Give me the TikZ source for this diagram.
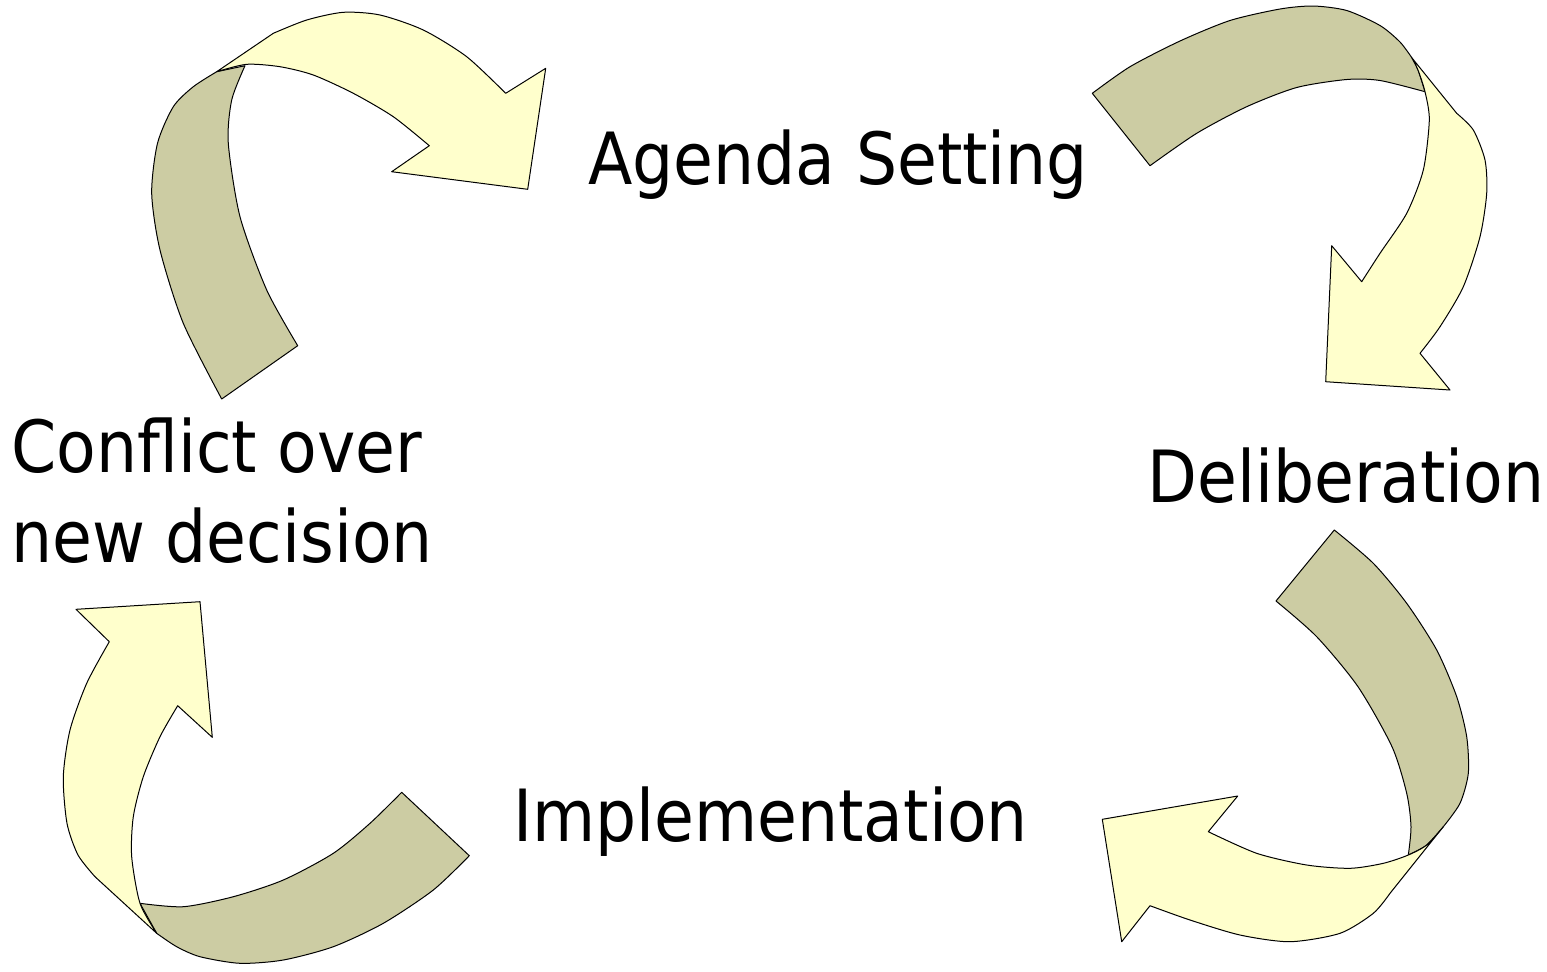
\documentclass[tikz,border=0pt]{standalone}
\usepackage{fontspec}
\setmainfont{DejaVu Sans Condensed}
\definecolor{foldgreen}{RGB}{204,204,163}
\definecolor{faceyellow}{RGB}{255,255,204}
\tikzset{
  fold/.style={draw=black,fill=foldgreen,line width=0.5pt,line join=round},
  face/.style={draw=black,fill=faceyellow,line width=0.5pt,line join=round},
  stage/.style={font=\fontsize{36}{45}\selectfont,inner sep=0pt,anchor=base west},
  smooth/.append style={tension=0.45}
}
\begin{document}
\begin{tikzpicture}[x=0.5pt,y=-0.5pt]
\useasboundingbox (0,0) rectangle (1547,971);
% upper left arrow, conflict -> agenda
\path[fold] (221.7,399) -- (297.7,345.7) -- plot[smooth] coordinates {(297.7,345.7) (266.7,290) (240,216.7) (228.3,143.3) (231.7,100) (245,65.7)} -- (216.7,71.7) -- plot[smooth] coordinates {(216.7,71.7) (193.3,86.7) (173.3,106.7) (157.5,143.3) (151.7,193.3) (160,250) (183.3,323.3) (221.7,399)} -- cycle;
\path[face] (216.7,71.7) -- (273.3,33.3) -- plot[smooth] coordinates {(273.3,33.3) (306.7,20) (343.3,12.3) (380,15) (423.3,30) (466.7,56.7) (505.7,93.3)} -- (545.7,68.3) -- (527.7,189.3) -- (391.7,171.7) -- (429.3,145.7) -- plot[smooth] coordinates {(429.3,145.7) (393.3,116.7) (353.3,93.3) (313.3,75) (280,66.7) (246.7,64.3) (216.7,71.7)} -- cycle;
% upper right arrow, agenda -> deliberation
\path[fold] (1092.3,93.3) -- plot[smooth] coordinates {(1092.3,93.3) (1130,66.7) (1180,41) (1230,20.5) (1280,9) (1313.3,6) (1346.7,10.5) (1380,25.5) (1400,42) (1412,58)} -- plot[smooth] coordinates {(1412,58) (1418,70) (1425,91.7)} -- plot[smooth] coordinates {(1425,91.7) (1380,80.5) (1346.7,79.5) (1296.7,87.5) (1246.7,106.7) (1196.7,133.3) (1150,165.7)} -- cycle;
\path[face] (1412,58) -- (1456.7,113.3) -- plot[smooth] coordinates {(1456.7,113.3) (1473.3,130) (1485,160) (1486.7,193.3) (1480,236.7) (1463.3,286.7) (1440,326.7) (1420,353.3)} -- (1450,390) -- (1325.7,381.7) -- (1331.7,245.7) -- (1361.7,281.7) -- plot[smooth] coordinates {(1361.7,281.7) (1380,253.3) (1406.7,213.3) (1423.3,170) (1429.3,120) (1425,91.7) (1418,70) (1412,58)} -- cycle;
% lower right arrow, deliberation -> implementation
\path[fold] (1334.3,530) -- plot[smooth] coordinates {(1334.3,530) (1373.3,563.3) (1406.7,603.3) (1436.7,650) (1456.7,696.7) (1466.7,736.7) (1468.3,773.3) (1460,803.3) (1443.3,826.7)} -- plot[smooth] coordinates {(1443.3,826.7) (1426.7,845) (1408.3,855)} -- plot[smooth] coordinates {(1408.3,855) (1411,826.7) (1406.7,793.3) (1392,746.7) (1358,686.7) (1316.7,636.7) (1276,601)} -- cycle;
\path[face] (1443.3,826.7) -- (1390,893.3) -- plot[smooth] coordinates {(1390,893.3) (1373.3,913.3) (1340,933.3) (1290,941.7) (1240,935) (1190,920) (1150,905.7)} -- (1121.7,941.7) -- (1102.3,819.3) -- (1237.7,796) -- (1208.3,831.7) -- plot[smooth] coordinates {(1208.3,831.7) (1256.7,853.3) (1306.7,865) (1350,868.3) (1383.3,863.3) (1408.3,855) (1426.7,845) (1443.3,826.7)} -- cycle;
% lower left arrow, implementation -> conflict
\path[fold] (140,903.3) -- plot[smooth] coordinates {(140,903.3) (183.3,906.7) (233.3,896.7) (283.3,880) (333.3,853.3) (370,823.3) (401.7,792.3)} -- (469.3,855.7) -- plot[smooth] coordinates {(469.3,855.7) (433.3,890) (383.3,923.3) (333.3,946.7) (283.3,960) (240,963.3) (200,956.7) (176.7,946.7) (156.7,933.3)} -- cycle;
\path[face] (156.7,933.3) -- (95,876.7) -- plot[smooth] coordinates {(95,876.7) (78,855) (67,823.3) (63.3,776.7) (70,730) (86.7,683.3) (109.3,641.7)} -- (76,609.3) -- (200,601.7) -- (212.3,737.3) -- (177.7,705.7) -- plot[smooth] coordinates {(177.7,705.7) (160,736.7) (143.3,776.7) (133.3,816.7) (131.7,856.7) (140,903.3) (156.7,933.3)} -- cycle;
% stage names
\node[stage] (agenda) at (588,184) {Agenda Setting};
\node[stage] (delib) at (1147,502) {Deliberation};
\node[stage] (impl) at (513,841) {Implementation};
\node[stage,anchor=north west,align=left] (conflict) at (11,417) {Conflict over\\new decision};
\end{tikzpicture}
\end{document}
